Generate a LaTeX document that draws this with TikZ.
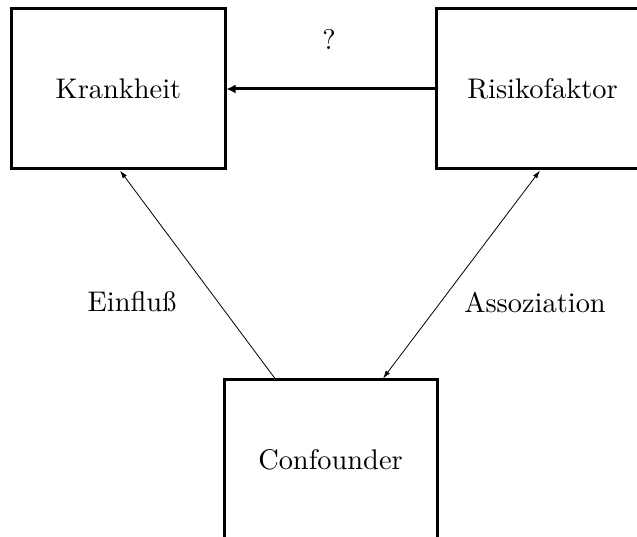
\documentclass[tikz,border=0pt]{standalone}
\usepackage{fontspec}
\newfontfamily\labelfont{lmroman10-regular.otf}
\usetikzlibrary{arrows.meta}
\tikzset{
  box/.style={draw, line width=3bp, minimum width=213bp, minimum height=160bp,
              inner sep=0pt, font=\labelfont\fontsize{28.5}{34}\selectfont},
  lbl/.style={inner sep=0pt, font=\labelfont\fontsize{28.5}{34}\selectfont},
  thickarrow/.style={line width=3bp, -{Latex[length=9bp,width=9bp]}},
  thinarrow/.style={line width=0.8bp, -{Latex[length=8bp,width=5bp]}},
  bothways/.style={line width=0.8bp, {Latex[length=8bp,width=5bp]}-{Latex[length=8bp,width=5bp]}}
}
\begin{document}
\begin{tikzpicture}[x=1bp, y=1bp]
  \useasboundingbox (0,0) rectangle (637,537);
  \clip (0,0) rectangle (637,537);
  % the three factors
  \node[box] (krank) at (118.5,448) {Krankheit};
  \node[box] (risiko) at (542.5,448) {Risikofaktor};
  \node[box] (conf) at (330.5,77) {Confounder};
  % connectors
  \draw[thickarrow] (risiko.west) -- (krank.east);
  \draw[thinarrow] ([xshift=-55.5bp]conf.north) -- ([xshift=1.5bp]krank.south);
  \draw[bothways] ([xshift=-2.5bp]risiko.south) -- ([xshift=52.5bp]conf.north);
  % labels
  \node[lbl] (frage) at (329,497) {?};
  \node[lbl] (einfluss) at (132,235) {Einfluß};
  \node[lbl] (assoz) at (535,235) {Assoziation};
\end{tikzpicture}
\end{document}
